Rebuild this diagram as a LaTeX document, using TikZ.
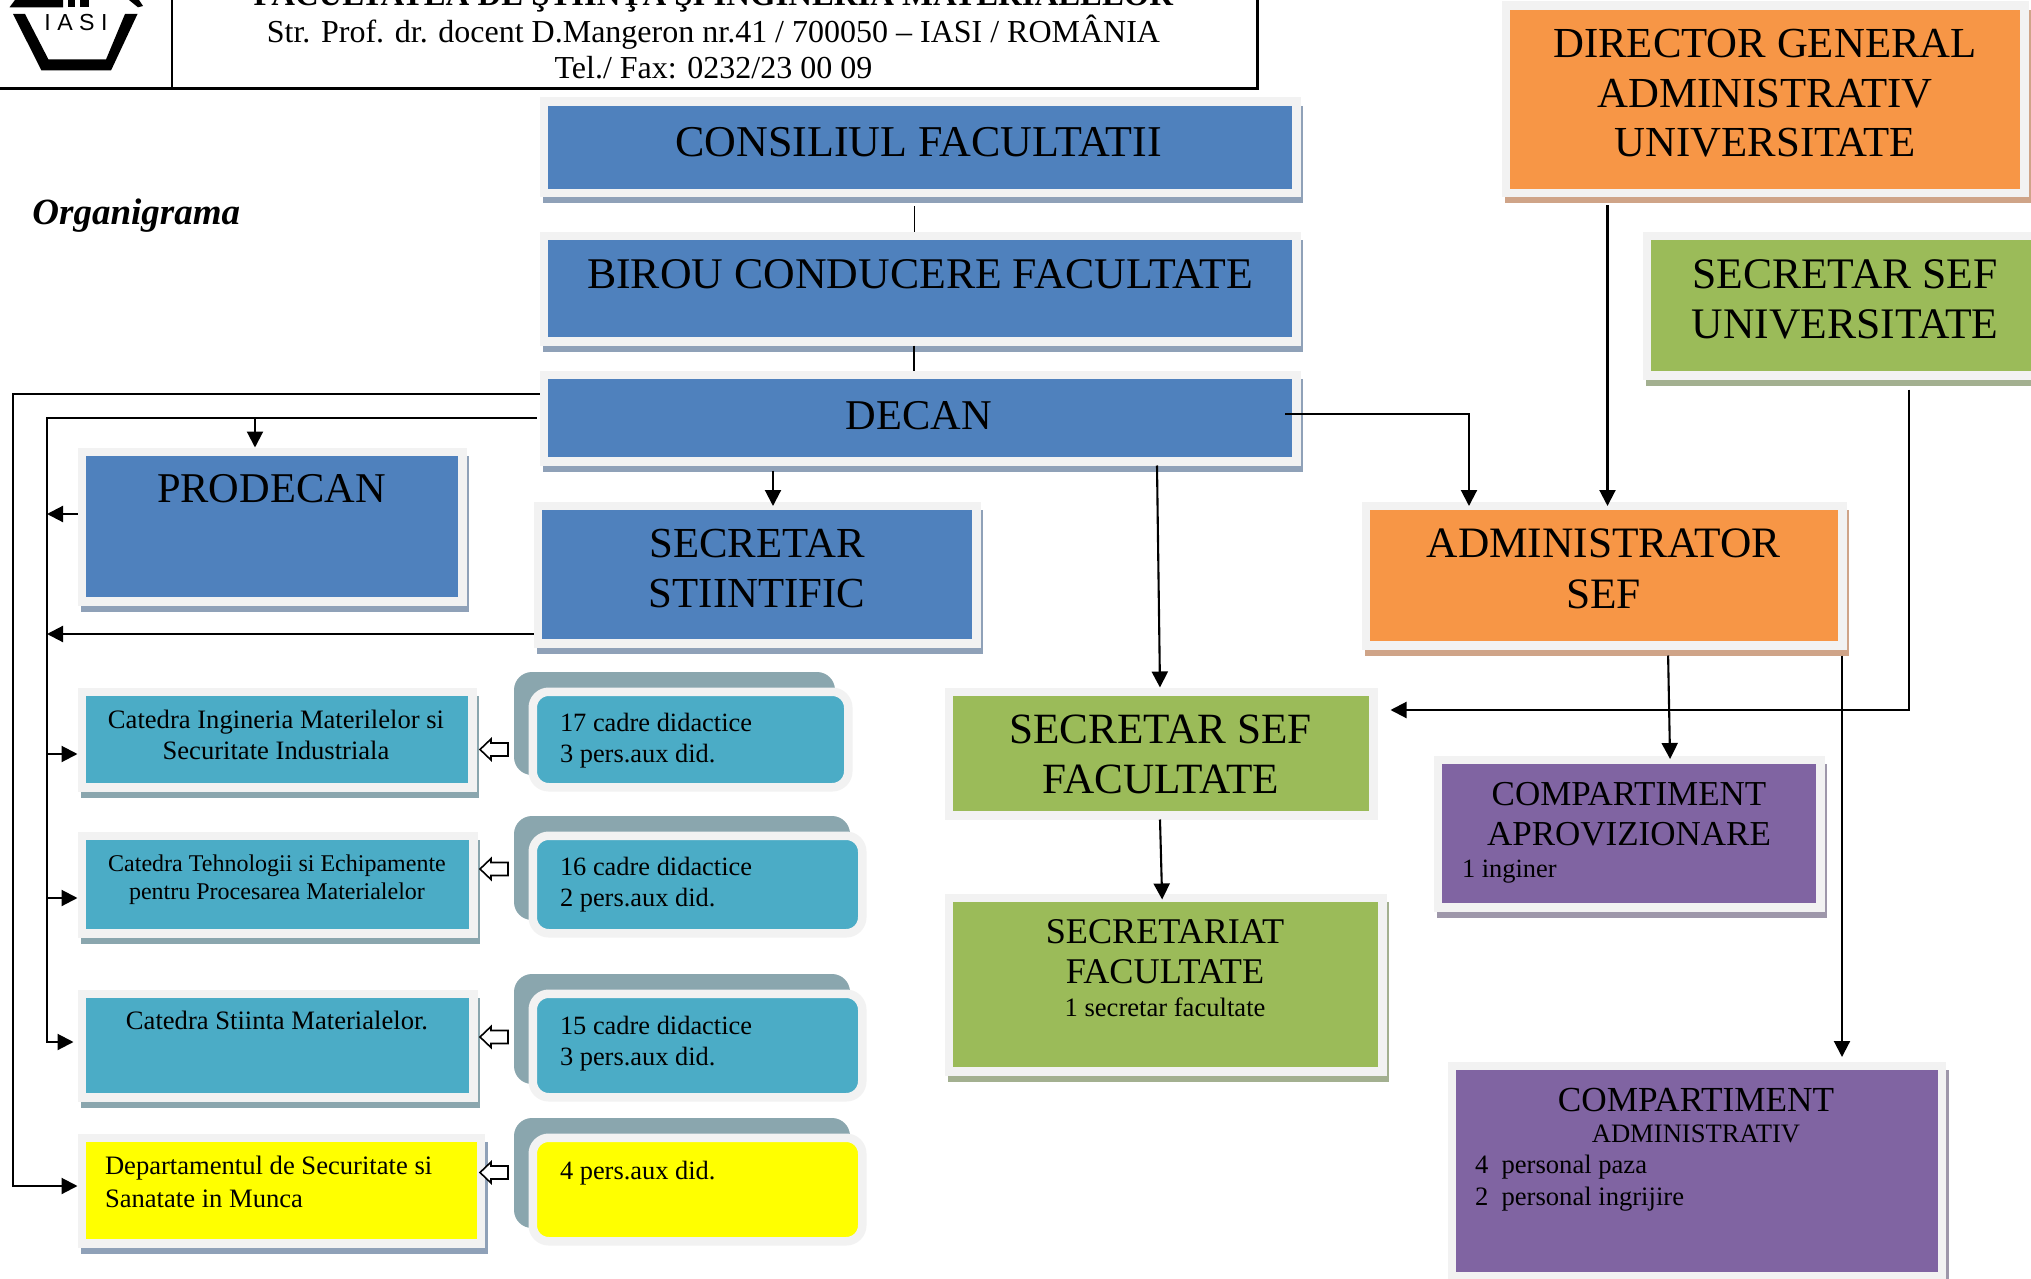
\documentclass[tikz,border=0pt]{standalone}
\usepackage{fontspec}
\setmainfont{Liberation Serif}
\newfontfamily\logofont{Liberation Sans}
\usetikzlibrary{arrows.meta}
\definecolor{cblue}{HTML}{4F81BD}
\definecolor{corange}{HTML}{F79646}
\definecolor{cgreen}{HTML}{9BBB59}
\definecolor{cpurple}{HTML}{8064A2}
\definecolor{cteal}{HTML}{4BACC6}
\definecolor{cyell}{HTML}{FFFF00}
\definecolor{cedge}{HTML}{F2F2F2}
\definecolor{sblue}{HTML}{8FA1B8}
\definecolor{sorange}{HTML}{CFA488}
\definecolor{sgreen}{HTML}{A3B090}
\definecolor{spurple}{HTML}{9E97AA}
\definecolor{steal}{HTML}{8AA6AE}
\tikzset{
  x=0.5pt,y=-0.5pt,
  sqnode/.style={draw=cedge,line width=4.25pt,inner sep=0pt,outer sep=2.125pt},
  rdnode/.style={sqnode,rounded corners=8pt},
  txt/.style={inner sep=0pt,outer sep=0pt,anchor=north,align=center,text=black},
  txtl/.style={inner sep=0pt,outer sep=0pt,anchor=north west,align=left,text=black},
  big/.style={font=\fontsize{21.4}{25.3}\selectfont},
  med/.style={font=\fontsize{18.1}{19.7}\selectfont},
  sml/.style={font=\fontsize{13.2}{16}\selectfont},
  smr/.style={font=\fontsize{13.2}{15.5}\selectfont},
  line/.style={line width=1.05pt,draw=black},
  arr/.style={line,-{Triangle[length=8pt,width=8pt]}},
  hollowarr/.style={draw=black,line width=0.8pt,fill=white,line join=miter},
}
% name, fill, shadow, inner l, t, r, b
\newcommand\sqbox[7]{%
  \fill[#3] ({#4-5.5},#5) rectangle ({#6+11},{#7+14.5});
  \node[sqnode,fill=#2,minimum width={(#6-#4+8.5)*0.5pt},minimum height={(#7-#5+8.5)*0.5pt}]
    (#1) at ({(#4+#6)/2},{(#5+#7)/2}) {};
}
% name, fill, inner r, t, b, shadow r, shadow b (left always 537 / 514)
\newcommand\rdbox[7]{%
  \fill[steal,rounded corners=9pt] (514,{#4-24}) rectangle (#6,#7);
  \node[rdnode,fill=#2,minimum width={(#3-537+8.5)*0.5pt},minimum height={(#5-#4+8.5)*0.5pt}]
    (#1) at ({(537+#3)/2},{(#4+#5)/2}) {};
}
\newcommand\hollowarrow[1]{%
  \draw[hollowarr] (508,{#1-6.5}) -- (491,{#1-6.5}) -- (491,{#1-10.5}) -- (480,#1)
    -- (491,{#1+10.5}) -- (491,{#1+6.5}) -- (508,{#1+6.5}) -- cycle;
}
\begin{document}
\begin{tikzpicture}
\useasboundingbox (0,0) rectangle (2031,1279);
\clip (0,0) rectangle (2031,1279);
\fill[white] (0,0) rectangle (2031,1279);

% header
\fill[black] (13,14) -- (41.5,70.5) -- (111,70.5) -- (137.5,14) -- (125,14) -- (106,59.5) -- (48.5,59.5) -- (25,14) -- cycle;
\fill[black] (9.5,7.3) -- (15,0) -- (63,0) -- (63,7.3) -- cycle;
\fill[black] (68,0) rectangle (75,7.3);
\fill[black] (80,0) rectangle (89,7.3);
\fill[black] (129,0) -- (139,0) -- (143,6) -- (138,7.3) -- cycle;
\node[inner sep=0pt,anchor=base,font=\logofont\fontsize{11.6}{12}\selectfont] (iasi) at (76,31) {I A S I};
\draw[line width=1.5pt] (0,88.5) -- (1257,88.5) -- (1257,0);
\draw[line width=1pt] (172,0) -- (172,88);
\node[txt,font=\fontsize{16}{18.25}\selectfont] (head) at (713.5,-16)
  {{\fontsize{16.4}{18.25}\selectfont\bfseries FACULTATEA DE ŞTIINŢA ŞI INGINERIA MATERIALELOR}\\
   Str. Prof. dr. docent D.Mangeron nr.41 / 700050 – IASI / ROMÂNIA\\
   Tel./ Fax: 0232/23 00 09};
\node[inner sep=0pt,anchor=base west,font=\fontsize{18.5}{20}\selectfont\bfseries\itshape] (org) at (32,224) {Organigrama};

% boxes
\sqbox{cons}{cblue}{sblue}{548}{106}{1292}{189}
\sqbox{bir}{cblue}{sblue}{548}{240}{1292}{337}
\sqbox{dec}{cblue}{sblue}{548}{379}{1292}{457}
\sqbox{pro}{cblue}{sblue}{86}{456}{458}{597}
\sqbox{ss}{cblue}{sblue}{542}{510}{972}{639}
\sqbox{dir}{corange}{sorange}{1510}{10}{2020}{189}
\sqbox{ssu}{cgreen}{sgreen}{1651}{240}{2045}{371}
\sqbox{adm}{corange}{sorange}{1370}{510}{1838}{641}
\sqbox{ssf}{cgreen}{white}{953}{696}{1369}{811}
\sqbox{sec}{cgreen}{sgreen}{953}{902}{1378}{1067}
\sqbox{capr}{cpurple}{spurple}{1442}{764}{1816}{903}
\sqbox{cadm}{cpurple}{spurple}{1456}{1070}{1937.5}{1272}
\sqbox{ca}{cteal}{steal}{86}{696}{468}{783}
\sqbox{cb}{cteal}{steal}{86}{840}{469}{929}
\sqbox{cc}{cteal}{steal}{86}{998}{469}{1093}
\sqbox{dep}{cyell}{sblue}{86}{1142}{476.5}{1239}
\rdbox{ra}{cteal}{844}{696}{783}{835}{775}
\rdbox{rb}{cteal}{858}{840}{929}{850}{920}
\rdbox{rc}{cteal}{858}{998}{1093}{850}{1084}
\rdbox{rd}{cyell}{858}{1142}{1237}{850}{1228}

% texts
\node[txt,font=\fontsize{22}{25}\selectfont] at (918.5,127) {CONSILIUL FACULTATII};
\node[txt,font=\fontsize{21.9}{25}\selectfont] at (920,259.5) {BIROU CONDUCERE FACULTATE};
\node[txt,font=\fontsize{21.2}{25}\selectfont] at (919,401) {DECAN};
\node[txt,font=\fontsize{21.2}{25}\selectfont] at (271.4,474) {PRODECAN};
\node[txt,big] at (757,529) {SECRETAR\\STIINTIFIC};
\node[txt,font=\fontsize{21.4}{24.9}\selectfont] at (1765,29) {DIRECTOR GENERAL\\ADMINISTRATIV\\UNIVERSITATE};
\node[txt,font=\fontsize{21.8}{25.3}\selectfont] at (1845,259.5) {SECRETAR SEF\\UNIVERSITATE};
\node[txt,font=\fontsize{21.7}{25.3}\selectfont] at (1603.5,529) {ADMINISTRATOR\\SEF};
\node[txt,font=\fontsize{21.6}{24.7}\selectfont] at (1160.5,715) {SECRETAR SEF\\FACULTATE};
\node[txt,med] at (1165,920) {SECRETARIAT\\FACULTATE\\[-3.25pt]\fontsize{13.3}{13}\selectfont 1 secretar facultate};
\node[txt,font=\fontsize{17.5}{20}\selectfont] at (1629,782) {COMPARTIMENT\\APROVIZIONARE};
\node[txtl,sml] at (1462,860) {1 inginer};
\node[txt,font=\fontsize{17.6}{20}\selectfont] at (1696,1088) {COMPARTIMENT\\[-4.5pt]\fontsize{13.3}{11}\selectfont ADMINISTRATIV};
\node[txtl,font=\fontsize{13.3}{16}\selectfont] at (1475,1155) {4\ \ personal paza\\2\ \ personal ingrijire};
\node[txt,font=\fontsize{13.3}{15.7}\selectfont] at (276,710) {Catedra Ingineria Materilelor si\\Securitate Industriala};
\node[txt,font=\fontsize{12}{14}\selectfont] at (277,854.5) {Catedra Tehnologii si Echipamente\\pentru Procesarea Materialelor};
\node[txt,font=\fontsize{13.3}{16}\selectfont] at (277,1011.5) {Catedra Stiinta Materialelor.};
\node[txtl,font=\fontsize{13.3}{16.5}\selectfont] at (105,1156) {Departamentul de Securitate si\\Sanatate in Munca};
\node[txtl,smr] at (560,713) {17 cadre didactice\\3 pers.aux did.};
\node[txtl,smr] at (560,857) {16 cadre didactice\\2 pers.aux did.};
\node[txtl,smr] at (560,1016) {15 cadre didactice\\3 pers.aux did.};
\node[txtl,smr] at (560,1161) {4 pers.aux did.};

% connectors
\coordinate (busA) at (13,394);
\coordinate (busB) at (47,418);
\coordinate (decR) at (1285,414);
\draw[line,line width=.7pt,shorten <=4.5pt] (cons.south -| 914.5,0) -- (bir.north -| 914.5,0);
\draw[line] (bir.south -| 914,0) -- (dec.north -| 914,0);
\draw[arr] (dec.west |- busA) -- (busA) |- (dep.west |- 0,1186);
\draw[arr,shorten >=2pt,shorten <=1.5pt] (dec.west |- busB) -- (busB) |- (cc.west |- 0,1042);
\draw[arr] (busB -| 255,0) -- (pro.north -| 255,0);
\draw[arr] (pro.west |- 0,514) -- (busB |- 0,514);
\draw[arr] (ss.west |- 0,634) -- (busB |- 0,634);
\draw[arr] (busB |- 0,754) -- (ca.west |- 0,754);
\draw[arr] (busB |- 0,898) -- (cb.west |- 0,898);
\draw[arr,shorten <=2.5pt,shorten >=-2.25pt] (dec.south -| 773,0) -- (ss.north -| 773,0);
\draw[arr] (dec.south -| 1157,0) -- (ssf.north -| 1160,0);
\draw[arr,shorten >=-2.25pt] (decR) -| (adm.north -| 1469,0);
\draw[arr,shorten <=4pt,shorten >=-2.25pt] (dir.south -| 1607.5,0) -- (adm.north -| 1607.5,0);
\draw[arr,shorten <=5pt,shorten >=6.5pt] (ssu.south -| 1909,0) -- (1909,710) -- (ssf.east |- 0,710);
\draw[arr,shorten <=3pt,shorten >=-1.75pt] (adm.south -| 1668,0) -- (capr.north -| 1670,0);
\draw[arr,shorten <=3pt,shorten >=2.25pt] (adm.south -| 1842,0) -- (cadm.north -| 1842,0);
\draw[arr,shorten >=-3pt] (ssf.south -| 1160,0) -- (sec.north -| 1162,0);
\hollowarrow{749.5}
\hollowarrow{869}
\hollowarrow{1037}
\hollowarrow{1172.5}
\end{tikzpicture}
\end{document}
